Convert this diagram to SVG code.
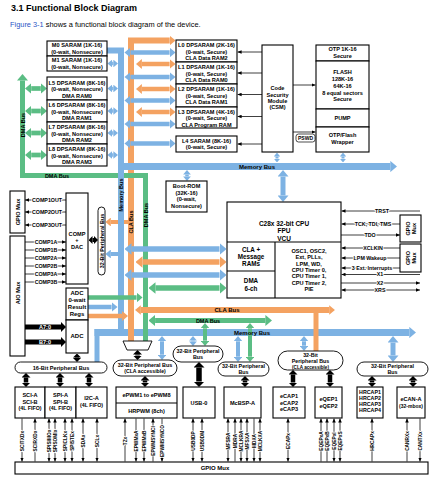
<svg xmlns="http://www.w3.org/2000/svg" width="447" height="480" viewBox="0 0 447 480">
<defs>
<style>
.t{font-family:"Liberation Sans",Arial,sans-serif;font-weight:bold;font-size:5.6px;text-anchor:middle;fill:#000}
.bx{fill:#fff;stroke:#000;stroke-width:1.1}
.pl{fill:#fff;stroke:#000;stroke-width:0.9}
.bl{stroke:#7DB2E3;fill:none}
.or{stroke:#F4A261;fill:none}
.gr{stroke:#5BBD84;fill:none}
.bk{stroke:#000;fill:none}
.ln{stroke:#000;stroke-width:0.75;fill:none}
.lb{font-family:"Liberation Sans",Arial,sans-serif;font-weight:bold;font-size:4.8px;text-anchor:middle;fill:#000;stroke:#fff;stroke-width:1.8px;paint-order:stroke}
.rs{font-size:5.3px}
.bus{font-family:"Liberation Sans",Arial,sans-serif;font-weight:bold;font-size:6px;text-anchor:middle;fill:#000}
.vb{font-size:5.5px}
</style>
<marker id="hB" viewBox="0 0 6 10" markerWidth="1.32" markerHeight="2.2" refX="0" refY="5" orient="auto-start-reverse"><path d="M0,0L6,5L0,10z" fill="#7DB2E3"/></marker>
<marker id="hO" viewBox="0 0 6 10" markerWidth="1.32" markerHeight="2.2" refX="0" refY="5" orient="auto-start-reverse"><path d="M0,0L6,5L0,10z" fill="#F4A261"/></marker>
<marker id="hG" viewBox="0 0 6 10" markerWidth="1.32" markerHeight="2.2" refX="0" refY="5" orient="auto-start-reverse"><path d="M0,0L6,5L0,10z" fill="#5BBD84"/></marker>
<marker id="bB" viewBox="0 0 6 10" markerWidth="0.96" markerHeight="1.6" refX="0" refY="5" orient="auto-start-reverse"><path d="M0,0L6,5L0,10z" fill="#7DB2E3"/></marker>
<marker id="bO" viewBox="0 0 6 10" markerWidth="0.96" markerHeight="1.6" refX="0" refY="5" orient="auto-start-reverse"><path d="M0,0L6,5L0,10z" fill="#F4A261"/></marker>
<marker id="hK" viewBox="0 0 5 10" markerWidth="1" markerHeight="2" refX="0" refY="5" orient="auto-start-reverse"><path d="M0,0L5,5L0,10z" fill="#000"/></marker>
<marker id="ak" viewBox="0 0 4 4" markerWidth="4" markerHeight="4" markerUnits="userSpaceOnUse" refX="4" refY="2" orient="auto-start-reverse"><path d="M0,0.2L4,2L0,3.8z" fill="#000"/></marker>
</defs>
<rect width="447" height="480" fill="#fff"/>
<g id="title">
<text x="11" y="11" font-family="Liberation Sans,Arial,sans-serif" font-weight="bold" font-size="9">3.1 Functional Block Diagram</text>
<text x="10" y="26.5" font-family="Liberation Sans,Arial,sans-serif" font-size="7.4"><tspan fill="#2a56c6">Figure 3-1</tspan> shows a functional block diagram of the device.</text>
</g>
<g id="connectors">
<line class="or" x1="128" y1="222" x2="110.8" y2="222" stroke-width="4" marker-end="url(#hO)"/>
<path class="or" d="M131,341V40.5H169.7" stroke-width="6" marker-end="url(#bO)"/>
<path class="gr" d="M22.5,80.6V175.5H145.5V341" stroke-width="5" marker-start="url(#hG)"/>
<path class="bl" d="M107,50.5H121V333" stroke-width="6"/>
<line class="bl" x1="118" y1="166.5" x2="390.3" y2="166.5" stroke-width="7" marker-end="url(#bB)"/>
<g stroke-width="4.5" marker-start="url(#hO)" marker-end="url(#hO)" class="or">
<line x1="141.9" y1="64" x2="169.6" y2="64"/><line x1="141.9" y1="89" x2="169.6" y2="89"/><line x1="141.9" y1="112" x2="169.6" y2="112"/>
</g>
<g stroke-width="4.5" marker-start="url(#hB)" marker-end="url(#hB)" class="bl">
<line x1="130.4" y1="52.5" x2="169.6" y2="52.5"/><line x1="130.4" y1="77" x2="169.6" y2="77"/><line x1="130.4" y1="100.5" x2="169.6" y2="100.5"/><line x1="130.4" y1="124" x2="169.6" y2="124"/><line x1="130.4" y1="143.5" x2="169.6" y2="143.5"/>
</g>
<g stroke-width="3.5" marker-start="url(#hB)" marker-end="url(#hB)" class="bl">
<line x1="112.1" y1="63.5" x2="113.4" y2="63.5"/><line x1="112.1" y1="88.5" x2="113.4" y2="88.5"/><line x1="112.1" y1="111" x2="113.4" y2="111"/><line x1="112.1" y1="133" x2="113.4" y2="133"/><line x1="112.1" y1="155" x2="113.4" y2="155"/>
</g>
<g stroke-width="4.7" marker-start="url(#hG)" marker-end="url(#hG)" class="gr">
<line x1="31.2" y1="88.5" x2="40.8" y2="88.5"/><line x1="31.2" y1="111" x2="40.8" y2="111"/><line x1="31.2" y1="133" x2="40.8" y2="133"/><line x1="31.2" y1="155" x2="40.8" y2="155"/>
</g>
<g class="bl" marker-start="url(#hB)" marker-end="url(#hB)">
<line x1="277" y1="156.5" x2="277" y2="158.5" stroke-width="3"/>
<line x1="343" y1="156.5" x2="343" y2="158.5" stroke-width="3"/>
<line x1="187" y1="174.6" x2="187" y2="176.4" stroke-width="3.5"/>
<line x1="283" y1="176.6" x2="283" y2="195.4" stroke-width="5"/>
<line x1="131.5" y1="249" x2="219.5" y2="249" stroke-width="5.3"/>
<line x1="131.5" y1="275" x2="219.5" y2="275" stroke-width="5.3"/>
</g>
<line class="or" x1="142.5" y1="262" x2="219.5" y2="262" stroke-width="5.3" marker-start="url(#hO)" marker-end="url(#hO)"/>
<line class="gr" x1="155.5" y1="288" x2="219.5" y2="288" stroke-width="5.3" marker-start="url(#hG)" marker-end="url(#hG)"/>
<line class="bl" x1="118" y1="254" x2="110.8" y2="254" stroke-width="4" marker-end="url(#hB)"/>
<line class="or" x1="140.8" y1="310" x2="329.2" y2="310" stroke-width="6" marker-start="url(#bO)" marker-end="url(#bO)"/>
<line class="gr" x1="155.1" y1="320.5" x2="265.4" y2="320.5" stroke-width="5" marker-start="url(#hG)" marker-end="url(#hG)"/>
<line class="bl" x1="94.5" y1="332.5" x2="409.3" y2="332.5" stroke-width="7" marker-end="url(#bB)"/>
<line class="bl" x1="97" y1="329" x2="97" y2="362.5" stroke-width="5"/>
<line class="or" x1="131" y1="326" x2="131" y2="341" stroke-width="6"/>
<line class="gr" x1="145.5" y1="326" x2="145.5" y2="341" stroke-width="5"/>
<line class="or" x1="316" y1="313" x2="316" y2="351" stroke-width="5"/>
<g class="bl" marker-start="url(#hB)" marker-end="url(#hB)" stroke-width="4">
<line x1="162" y1="341.3" x2="162" y2="354.7"/>
<line x1="193" y1="340.6" x2="193" y2="341.4" stroke-width="3.5"/>
<line x1="238" y1="341.3" x2="238" y2="356.7"/>
<line x1="304" y1="341.3" x2="304" y2="345.7"/>
<line x1="393" y1="342.6" x2="393" y2="355.4" stroke-width="5"/>
</g>
<g class="gr" marker-start="url(#hG)" marker-end="url(#hG)" stroke-width="4">
<line x1="205" y1="328.3" x2="205" y2="340.7"/>
<line x1="250" y1="328.3" x2="250" y2="356.7"/>
</g>
<line class="gr" x1="88" y1="297.5" x2="136.6" y2="297.5" stroke-width="4.5" marker-end="url(#hG)"/>
<line class="bl" x1="88" y1="307" x2="111.6" y2="307" stroke-width="4.5" marker-end="url(#hB)"/>
<line class="or" x1="88" y1="316" x2="122.1" y2="316" stroke-width="4.5" marker-end="url(#hO)"/>
<g class="bk" marker-end="url(#hK)" stroke-width="5">
<line x1="25" y1="327" x2="61" y2="327"/><line x1="25" y1="342" x2="61" y2="342"/>
</g>
<text class="t" x="45" y="329" fill="#fff" style="fill:#fff">A7:0</text>
<text class="t" x="45" y="344" style="fill:#fff">B7:0</text>
<g class="bk" marker-start="url(#hK)" marker-end="url(#hK)" stroke-width="4.5">
<line x1="26" y1="377.5" x2="26" y2="382.5"/><line x1="60" y1="377.5" x2="60" y2="382.5"/><line x1="89" y1="377.5" x2="89" y2="382.5"/>
<line x1="137.5" y1="354.5" x2="137.5" y2="355.5"/>
<line x1="145" y1="380.5" x2="145" y2="382.5"/>
<line x1="199" y1="367.5" x2="199" y2="381.5" stroke-width="5.5"/>
<line x1="245" y1="380.5" x2="245" y2="382.5"/>
<line x1="293" y1="374.5" x2="293" y2="382.5"/><line x1="330" y1="374.5" x2="330" y2="382.5"/>
<line x1="372" y1="380.5" x2="372" y2="382.5"/><line x1="413" y1="380.5" x2="413" y2="382.5"/>
<line x1="77" y1="357.5" x2="77" y2="358" stroke-width="4"/>
<line x1="92.5" y1="240" x2="94" y2="240" stroke-width="4"/>
</g>
<g class="ln" marker-end="url(#ak)">
<line x1="66" y1="200" x2="25" y2="200"/><line x1="66" y1="212" x2="25" y2="212"/><line x1="66" y1="225" x2="25" y2="225"/>
<line x1="25" y1="242" x2="66" y2="242"/><line x1="25" y1="250" x2="66" y2="250"/><line x1="25" y1="258" x2="66" y2="258"/><line x1="25" y1="266" x2="66" y2="266"/><line x1="25" y1="274" x2="66" y2="274"/><line x1="25" y1="282" x2="66" y2="282"/>
<line x1="420" y1="211" x2="341.5" y2="211"/><line x1="400" y1="224" x2="341.5" y2="224"/><line x1="341" y1="235" x2="400" y2="235"/>
<line x1="400" y1="248" x2="341.5" y2="248"/><line x1="400" y1="258" x2="341.5" y2="258"/><line x1="400" y1="268" x2="341.5" y2="268"/>
<line x1="420" y1="274.5" x2="341.5" y2="274.5"/><line x1="341" y1="283" x2="420" y2="283"/>
<line x1="341.5" y1="290" x2="420" y2="290" marker-start="url(#ak)"/>
<line x1="262" y1="52" x2="237.6" y2="52"/><line x1="262" y1="73" x2="237.6" y2="73"/><line x1="262" y1="94.5" x2="237.6" y2="94.5"/><line x1="262" y1="116.5" x2="237.6" y2="116.5"/><line x1="262" y1="144" x2="237.6" y2="144"/>
<line x1="293" y1="85" x2="315.5" y2="85"/><line x1="293" y1="132" x2="315.5" y2="132"/>
</g>
<g class="ln" marker-end="url(#ak)">
<line x1="22" y1="418.5" x2="22" y2="461.5"/><line x1="35" y1="461.5" x2="35" y2="418.5"/>
<line x1="125" y1="461.5" x2="125" y2="418.5"/><line x1="136" y1="418.5" x2="136" y2="461.5"/><line x1="144" y1="418.5" x2="144" y2="461.5"/><line x1="153" y1="461.5" x2="153" y2="418.5"/><line x1="162" y1="418.5" x2="162" y2="461.5"/>
<line x1="235" y1="461.5" x2="235" y2="418.5"/><line x1="254" y1="418.5" x2="254" y2="461.5"/>
<line x1="321" y1="461.5" x2="321" y2="418.5"/><line x1="327" y1="461.5" x2="327" y2="418.5"/>
<line x1="372" y1="461.5" x2="372" y2="418.5"/><line x1="407" y1="461.5" x2="407" y2="418.5"/><line x1="420" y1="418.5" x2="420" y2="461.5"/>
</g>
<g class="ln" marker-start="url(#ak)" marker-end="url(#ak)">
<line x1="49" y1="418.5" x2="49" y2="461.5"/><line x1="55" y1="418.5" x2="55" y2="461.5"/><line x1="65" y1="418.5" x2="65" y2="461.5"/><line x1="72" y1="418.5" x2="72" y2="461.5"/>
<line x1="83" y1="418.5" x2="83" y2="461.5"/><line x1="97" y1="418.5" x2="97" y2="461.5"/>
<line x1="193" y1="418.5" x2="193" y2="461.5"/><line x1="202" y1="418.5" x2="202" y2="461.5"/>
<line x1="228" y1="418.5" x2="228" y2="461.5"/><line x1="241" y1="418.5" x2="241" y2="461.5"/><line x1="247" y1="418.5" x2="247" y2="461.5"/><line x1="260" y1="418.5" x2="260" y2="461.5"/>
<line x1="288" y1="418.5" x2="288" y2="461.5"/>
<line x1="334" y1="418.5" x2="334" y2="461.5"/><line x1="340" y1="418.5" x2="340" y2="461.5"/>
</g>
<g class="lb">
<text transform="translate(22,441) rotate(-90)" y="1.7">SCITXDx</text>
<text transform="translate(35,441) rotate(-90)" y="1.7">SCIRXDx</text>
<text transform="translate(49,441) rotate(-90)" y="1.7">SPISIMOx</text>
<text transform="translate(55,441) rotate(-90)" y="1.7">SPISOMIx</text>
<text transform="translate(65,441) rotate(-90)" y="1.7">SPICLKx</text>
<text transform="translate(72,441) rotate(-90)" y="1.7">SPISTEx</text>
<text transform="translate(83,441) rotate(-90)" y="1.7">SDAx</text>
<text transform="translate(97,441) rotate(-90)" y="1.7">SCLx</text>
<text transform="translate(125,441) rotate(-90)" y="1.7">TZx</text>
<text transform="translate(136,441) rotate(-90)" y="1.7">EPWMxA</text>
<text transform="translate(144,441) rotate(-90)" y="1.7">EPWMxB</text>
<text transform="translate(153,441) rotate(-90)" y="1.7">EPWMSYNCI</text>
<text transform="translate(162,441) rotate(-90)" y="1.7">EPWMSYNCO</text>
<text transform="translate(193,441) rotate(-90)" y="1.7">USB0DP</text>
<text transform="translate(202,441) rotate(-90)" y="1.7">USB0DM</text>
<text transform="translate(228,441) rotate(-90)" y="1.7">MFSRA</text>
<text transform="translate(235,441) rotate(-90)" y="1.7">MDRA</text>
<text transform="translate(241,441) rotate(-90)" y="1.7">MCLKRA</text>
<text transform="translate(247,441) rotate(-90)" y="1.7">MFSXA</text>
<text transform="translate(254,441) rotate(-90)" y="1.7">MDXA</text>
<text transform="translate(260,441) rotate(-90)" y="1.7">MCLKXA</text>
<text transform="translate(288,441) rotate(-90)" y="1.7">ECAPx</text>
<text transform="translate(321,441) rotate(-90)" y="1.7">EQEPxA</text>
<text transform="translate(327,441) rotate(-90)" y="1.7">EQEPxB</text>
<text transform="translate(334,441) rotate(-90)" y="1.7">EQEPxI</text>
<text transform="translate(340,441) rotate(-90)" y="1.7">EQEPxS</text>
<text transform="translate(372,441) rotate(-90)" y="1.7">HRCAPx</text>
<text transform="translate(407,441) rotate(-90)" y="1.7">CANRXx</text>
<text transform="translate(420,441) rotate(-90)" y="1.7">CANTXx</text>
</g>
<g class="lb rs">
<text x="47" y="201.9">COMP1OUT</text><text x="47" y="213.9">COMP2OUT</text><text x="47" y="226.9">COMP3OUT</text>
<text x="46" y="243.9">COMP1A</text><text x="46" y="251.9">COMP1B</text><text x="46" y="259.9">COMP2A</text><text x="46" y="267.9">COMP2B</text><text x="46" y="275.9">COMP3A</text><text x="46" y="283.9">COMP3B</text>
<text x="382" y="212.9">TRST</text><text x="373" y="225.9">TCK, TDI, TMS</text><text x="370" y="236.9">TDO</text>
<text x="373" y="249.9">XCLKIN</text><text x="370" y="259.9">LPM Wakeup</text><text x="372" y="269.9">3 Ext. Interrupts</text>
<text x="380" y="276.4">X1</text><text x="380" y="284.9">X2</text><text x="380" y="291.9">XRS</text>
</g>
<g class="bus">
<text x="257" y="168.6">Memory Bus</text>
<text x="57" y="177.6" class="vb">DMA Bus</text>
<text x="227" y="312.2">CLA Bus</text>
<text x="208" y="322.6" class="vb">DMA Bus</text>
<text x="252" y="334.6">Memory Bus</text>
<text class="vb" transform="translate(22.5,125) rotate(-90)" y="2">DMA Bus</text>
<text class="vb" transform="translate(121,195) rotate(-90)" y="2">Memory Bus</text>
<text class="vb" transform="translate(131,222) rotate(-90)" y="2">CLA Bus</text>
<text class="vb" transform="translate(145.5,215) rotate(-90)" y="2">DMA Bus</text>
</g>
</g>
<g id="m0"><rect class="bx" x="47" y="41" width="60" height="15"/><text class="t" x="77" y="47">M0 SARAM (1K-16)</text><text class="t" x="77" y="54">(0-wait, Nonsecure)</text></g>
<g id="m1"><rect class="bx" x="47" y="56" width="60" height="15"/><text class="t" x="77" y="62">M1 SARAM (1K-16)</text><text class="t" x="77" y="69">(0-wait, Nonsecure)</text></g>
<g id="l5"><rect class="bx" x="47" y="77" width="60" height="23"/><text class="t" x="77" y="84.5">L5 DPSARAM (8K-16)</text><text class="t" x="77" y="91">(0-wait, Nonsecure)</text><text class="t" x="77" y="97.5">DMA RAM0</text></g>
<g id="l6"><rect class="bx" x="47" y="100" width="60" height="22"/><text class="t" x="77" y="107">L6 DPSARAM (8K-16)</text><text class="t" x="77" y="113.5">(0-wait, Nonsecure)</text><text class="t" x="77" y="120">DMA RAM1</text></g>
<g id="l7"><rect class="bx" x="47" y="122" width="60" height="22"/><text class="t" x="77" y="129">L7 DPSARAM (8K-16)</text><text class="t" x="77" y="135.5">(0-wait, Nonsecure)</text><text class="t" x="77" y="142">DMA RAM2</text></g>
<g id="l8"><rect class="bx" x="47" y="144" width="60" height="22"/><text class="t" x="77" y="151">L8 DPSARAM (8K-16)</text><text class="t" x="77" y="157.5">(0-wait, Nonsecure)</text><text class="t" x="77" y="164">DMA RAM3</text></g>
<g id="l0"><rect class="bx" x="176" y="40" width="61" height="22"/><text class="t" x="206.5" y="47">L0 DPSARAM (2K-16)</text><text class="t" x="206.5" y="53.5">(0-wait, Secure)</text><text class="t" x="206.5" y="60">CLA Data RAM2</text></g>
<g id="l1"><rect class="bx" x="176" y="62" width="61" height="22"/><text class="t" x="206.5" y="69">L1 DPSARAM (1K-16)</text><text class="t" x="206.5" y="75.5">(0-wait, Secure)</text><text class="t" x="206.5" y="82">CLA Data RAM0</text></g>
<g id="l2"><rect class="bx" x="176" y="84" width="61" height="23"/><text class="t" x="206.5" y="91">L2 DPSARAM (1K-16)</text><text class="t" x="206.5" y="97.5">(0-wait, Secure)</text><text class="t" x="206.5" y="104">CLA Data RAM1</text></g>
<g id="l3"><rect class="bx" x="176" y="107" width="61" height="21"/><text class="t" x="206.5" y="113.5">L3 DPSARAM (4K-16)</text><text class="t" x="206.5" y="120">(0-wait, Secure)</text><text class="t" x="206.5" y="126.5">CLA Program RAM</text></g>
<g id="l4"><rect class="bx" x="176" y="136" width="61" height="16"/><text class="t" x="206.5" y="142.5">L4 SARAM (8K-16)</text><text class="t" x="206.5" y="149">(0-wait, Secure)</text></g>
<g id="csm"><rect class="bx" x="262" y="45" width="31" height="107"/><text class="t" x="277.5" y="90">Code</text><text class="t" x="277.5" y="97">Security</text><text class="t" x="277.5" y="103">Module</text><text class="t" x="277.5" y="109">(CSM)</text></g>
<g id="pswd"><rect x="296" y="134" width="19" height="8" rx="2.5" fill="#fff" stroke="#000" stroke-width="0.7"/><text class="t" x="305.5" y="140" style="font-size:5px">PSWD</text></g>
<g id="otp"><rect class="bx" x="316" y="45" width="53" height="16"/><text class="t" x="342.5" y="51">OTP 1K-16</text><text class="t" x="342.5" y="58">Secure</text></g>
<g id="flash"><rect class="bx" x="316" y="61" width="53" height="48"/><text class="t" x="342.5" y="74">FLASH</text><text class="t" x="342.5" y="81">128K-16</text><text class="t" x="342.5" y="88">64K-16</text><text class="t" x="342.5" y="94.5">8 equal sectors</text><text class="t" x="342.5" y="101">Secure</text></g>
<g id="pump"><rect class="bx" x="316" y="109" width="53" height="18"/><text class="t" x="342.5" y="120">PUMP</text></g>
<g id="wrapper"><rect class="bx" x="316" y="127" width="53" height="25"/><text class="t" x="342.5" y="137">OTP/Flash</text><text class="t" x="342.5" y="144">Wrapper</text></g>
<g id="bootrom"><rect class="bx" x="166" y="181" width="41" height="31"/><text class="t" x="186.5" y="188">Boot-ROM</text><text class="t" x="186.5" y="195">(32K-16)</text><text class="t" x="186.5" y="201">(0-wait,</text><text class="t" x="186.5" y="208">Nonsecure)</text></g>
<g id="cpu"><rect class="bx" x="227" y="202" width="114" height="96"/><path d="M227,242H341M275,242V298M227,271H275" stroke="#000" stroke-width="1.1" fill="none"/>
<text class="t" x="284" y="225.6" style="font-size:6.5px">C28x 32-bit CPU</text><text class="t" x="284" y="233.4" style="font-size:6.5px">FPU</text><text class="t" x="284" y="240.6" style="font-size:6.5px">VCU</text></g>
<g id="cla"><text class="t" x="251" y="251.6" style="font-size:6.3px">CLA +</text><text class="t" x="251" y="259" style="font-size:6.3px">Message</text><text class="t" x="251" y="265.6" style="font-size:6.3px">RAMs</text></g>
<g id="dma"><text class="t" x="251" y="283.3" style="font-size:6.3px">DMA</text><text class="t" x="251" y="290.5" style="font-size:6.3px">6-ch</text></g>
<g id="osc"><text class="t" x="309" y="252.7">OSC1, OSC2,</text><text class="t" x="309" y="259.1">Ext, PLLs,</text><text class="t" x="309" y="265.6">LPM, WD,</text><text class="t" x="309" y="272">CPU Timer 0,</text><text class="t" x="309" y="278.4">CPU Timer 1,</text><text class="t" x="309" y="284.9">CPU Timer 2,</text><text class="t" x="309" y="291.3">PIE</text></g>
<g id="gpiomux-jtag"><rect class="bx" x="400" y="215" width="21" height="27"/><g transform="translate(410.5,228.5) rotate(-90)"><text class="t" y="-0.5">GPIO</text><text class="t" y="5.5">Mux</text></g></g>
<g id="gpiomux-clk"><rect class="bx" x="400" y="244" width="21" height="28"/><g transform="translate(410.5,258) rotate(-90)"><text class="t" y="-0.5">GPIO</text><text class="t" y="5.5">Mux</text></g></g>
<g id="gpiomux-comp"><rect class="bx" x="10" y="191" width="15" height="42"/><text class="t" transform="translate(17.5,212) rotate(-90)" y="2">GPIO Mux</text></g>
<g id="aiomux"><rect class="bx" x="10" y="236" width="15" height="120"/><text class="t" transform="translate(17.5,293) rotate(-90)" y="2">AIO Mux</text></g>
<g id="compdac"><rect class="bx" x="66" y="193" width="22" height="91"/><text class="t" x="77" y="235.5">COMP</text><text class="t" x="77" y="242">+</text><text class="t" x="77" y="249">DAC</text></g>
<g id="adcregs"><rect class="bx" x="66" y="288" width="22" height="32"/><text class="t" x="77" y="294.5" style="font-size:6px">ADC</text><text class="t" x="77" y="301.5" style="font-size:6px">0-wait</text><text class="t" x="77" y="308.5" style="font-size:6px">Result</text><text class="t" x="77" y="315.5" style="font-size:6px">Regs</text></g>
<g id="adc"><rect class="bx" x="66" y="320" width="22" height="33"/><text class="t" x="77" y="338" style="font-size:6px">ADC</text></g>
<g id="pbus-comp"><rect class="pl" x="98" y="207" width="7" height="68" rx="3.5"/><text class="t" transform="translate(101.5,241) rotate(-90)" y="2" style="font-size:5.4px">32-Bit Peripheral Bus</text></g>
<g id="pbus16"><rect class="pl" x="15" y="362" width="92" height="11" rx="5.5"/><text class="t" x="61" y="369.6">16-Bit Peripheral Bus</text></g>
<g id="mux"><path d="M123,341H152L148,350H127Z" fill="#fff" stroke="#000" stroke-width="0.9"/></g>
<g id="pbus-cla"><rect class="pl" x="113" y="360" width="64" height="16" rx="8"/><text class="t" x="145" y="366.6" style="font-size:5.4px">32-Bit Peripheral Bus</text><text class="t" x="145" y="373.2" style="font-size:5.2px">(CLA accessible)</text></g>
<g id="pbus-usb"><rect class="pl" x="173" y="346" width="50" height="16" rx="8"/><text class="t" x="198" y="352.8" style="font-size:5.4px">32-Bit Peripheral</text><text class="t" x="198" y="359.4" style="font-size:5.4px">Bus</text></g>
<g id="pbus-mcbsp"><rect class="pl" x="218" y="362" width="51" height="14" rx="7"/><text class="t" x="243.5" y="368" style="font-size:5.4px">32-Bit Peripheral</text><text class="t" x="243.5" y="374.2" style="font-size:5.4px">Bus</text></g>
<g id="pbus-ecap"><rect class="pl" x="278" y="351" width="65" height="19" rx="9.5"/><text class="t" x="310.5" y="357.4" style="font-size:5.3px">32-Bit</text><text class="t" x="310.5" y="363.4" style="font-size:5.3px">Peripheral Bus</text><text class="t" x="310.5" y="368.6" style="font-size:4.6px">(CLA accessible)</text></g>
<g id="pbus-hrcap"><rect class="pl" x="357" y="362" width="71" height="14" rx="7"/><text class="t" x="392.5" y="368" style="font-size:5.4px">32-Bit Peripheral</text><text class="t" x="392.5" y="374.2" style="font-size:5.4px">Bus</text></g>
<g id="sci"><rect class="bx" x="15" y="387" width="30" height="31"/><text class="t" x="30" y="397">SCI-A</text><text class="t" x="30" y="403.5">SCI-B</text><text class="t" x="30" y="410" style="font-size:5.3px">(4L FIFO)</text></g>
<g id="spi"><rect class="bx" x="45" y="387" width="31" height="31"/><text class="t" x="60.5" y="397">SPI-A</text><text class="t" x="60.5" y="403.5">SPI-B</text><text class="t" x="60.5" y="410" style="font-size:5.3px">(4L FIFO)</text></g>
<g id="i2c"><rect class="bx" x="76" y="387" width="31" height="31"/><text class="t" x="91.5" y="400">I2C-A</text><text class="t" x="91.5" y="406.5" style="font-size:5.3px">(4L FIFO)</text></g>
<g id="epwm"><rect class="bx" x="116" y="387" width="61" height="31"/><line x1="116" y1="403" x2="177" y2="403" stroke="#000" stroke-width="1.1"/><text class="t" x="146.5" y="397">ePWM1 to ePWM8</text><text class="t" x="146.5" y="412.5">HRPWM (8ch)</text></g>
<g id="usb"><rect class="bx" x="183" y="387" width="32" height="31"/><text class="t" x="199" y="404.5">USB-0</text></g>
<g id="mcbsp"><rect class="bx" x="224" y="387" width="37" height="31"/><text class="t" x="242.5" y="404.5">McBSP-A</text></g>
<g id="ecap"><rect class="bx" x="273" y="387" width="32" height="31"/><text class="t" x="289" y="398">eCAP1</text><text class="t" x="289" y="404.5">eCAP2</text><text class="t" x="289" y="411">eCAP3</text></g>
<g id="eqep"><rect class="bx" x="315" y="387" width="27" height="31"/><text class="t" x="328.5" y="401">eQEP1</text><text class="t" x="328.5" y="407.5">eQEP2</text></g>
<g id="hrcap"><rect class="bx" x="357" y="387" width="26" height="31"/><text class="t" x="370" y="393.5" style="font-size:5.3px">HRCAP1</text><text class="t" x="370" y="399.5" style="font-size:5.3px">HRCAP2</text><text class="t" x="370" y="405.5" style="font-size:5.3px">HRCAP3</text><text class="t" x="370" y="411.5" style="font-size:5.3px">HRCAP4</text></g>
<g id="ecan"><rect class="bx" x="397" y="387" width="28" height="31"/><text class="t" x="411" y="401">eCAN-A</text><text class="t" x="411" y="407.5" style="font-size:5px">(32-mbox)</text></g>
<g id="gpiomux-bottom"><rect class="bx" x="15" y="462" width="413" height="12"/><text class="t" x="215" y="470.2" style="font-size:6px">GPIO Mux</text></g>
</svg>
